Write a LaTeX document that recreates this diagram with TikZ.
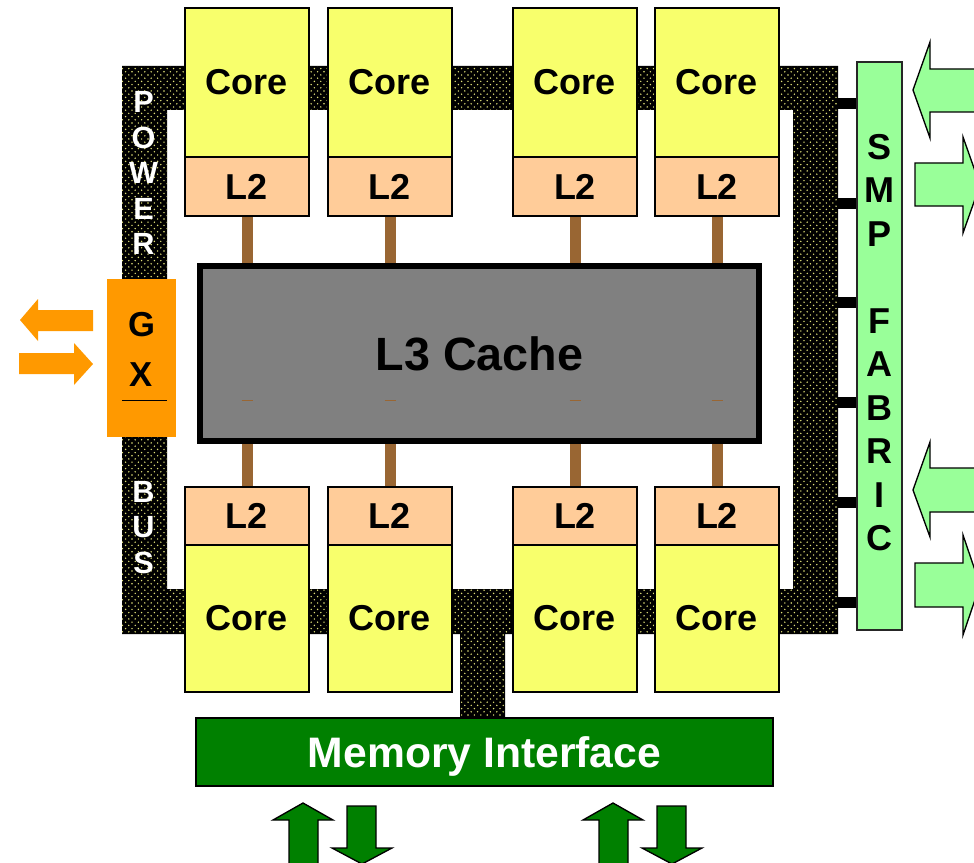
\documentclass[tikz,border=0pt]{standalone}
\usepackage{fontspec}
\setmainfont{Liberation Sans}
\usetikzlibrary{patterns}
\pgfdeclarepatternformonly{busdots}{\pgfqpoint{-1pt}{-1pt}}{\pgfqpoint{4pt}{4pt}}{\pgfqpoint{4.8pt}{4.8pt}}{%
  \pgfpathcircle{\pgfqpoint{0.6pt}{0.6pt}}{0.6pt}\pgfusepath{fill}%
  \pgfpathcircle{\pgfqpoint{3pt}{3pt}}{0.6pt}\pgfusepath{fill}}
\definecolor{coreY}{RGB}{248,255,108}
\definecolor{ltwo}{RGB}{255,204,153}
\definecolor{lthree}{RGB}{128,128,128}
\definecolor{brownc}{RGB}{153,102,51}
\definecolor{gxor}{RGB}{255,153,0}
\definecolor{smpg}{RGB}{153,255,153}
\definecolor{memg}{RGB}{0,128,0}
\definecolor{dotc}{RGB}{225,225,120}
\tikzset{
  busfill/.style={preaction={fill=black}, pattern=busdots, pattern color=dotc},
  corebox/.style={draw=black, line width=1.5pt, fill=coreY, inner sep=0pt,
    minimum width=93pt, font=\fontsize{27}{32}\selectfont\bfseries},
  ltwobox/.style={draw=black, line width=1.5pt, fill=ltwo, inner sep=0pt,
    minimum width=93pt, font=\fontsize{27}{32}\selectfont\bfseries},
  lthreebox/.style={draw=black, line width=4.5pt, fill=lthree, inner sep=0pt,
    minimum width=419.25pt, minimum height=131.25pt, font=\fontsize{35}{40}\selectfont\bfseries},
  brownbar/.style={draw=brownc, line width=8.25pt},
  letterw/.style={text=white, inner sep=0pt, font=\fontsize{23}{26}\selectfont\bfseries},
  letterk/.style={text=black, inner sep=0pt, font=\fontsize{27}{32}\selectfont\bfseries},
  bigarrow/.style={draw=black, line width=1pt, line join=miter},
}
\begin{document}
\begin{tikzpicture}[x=0.75pt,y=-0.75pt]
\useasboundingbox (0,0) rectangle (974,863);
\clip (0,0) rectangle (974,863);

% power bus
\fill[busfill] (122,66) rectangle (838,110) (122,66) rectangle (167,634)
  (793,66) rectangle (838,634) (122,589) rectangle (838,634)
  (460,589) rectangle (505,718);
\foreach \yy in {104,203,302,402,502,602}
  \fill[black] (838,\yy-5.5) rectangle (857,\yy+5.5);

\foreach \l/\yy [count=\i] in {P/101.5,O/138,W/172.5,E/208.5,R/243.5}
  \node[letterw] (pw\i) at (143.5,\yy) {\l};
\foreach \l/\yy [count=\i] in {B/492,U/527.5,S/563}
  \node[letterw] (bs\i) at (143.5,\yy) {\l};

% cores and L2
\foreach \x [count=\i] in {247,390,575,717} {
  \node[corebox, minimum height=111.75pt] (tc\i) at (\x,82.5) {Core};
  \node[ltwobox, minimum height=44.25pt] (tl\i) at (\x,186.5) {L2};
  \node[ltwobox, minimum height=43.5pt] (bl\i) at (\x,516) {L2};
  \node[corebox, minimum height=110.25pt] (bc\i) at (\x,618.5) {Core};
}

% L3
\node[lthreebox] (l3) at (479.5,353.5) {L3 Cache};
\foreach \i in {1,...,4} {
  \draw[brownbar] (tl\i.south) -- (tl\i.south |- l3.north);
  \draw[brownbar] (bl\i.north |- l3.south) -- (bl\i.north);
}
\foreach \x in {247,390,575,717}
  \draw[brownc, line width=0.75pt] (\x-5.5,400) -- (\x+5.5,400);

% GX
\node[fill=gxor, inner sep=0pt, minimum width=51.75pt, minimum height=118.5pt] (gx) at (141.5,358) {};
\node[letterk, font=\fontsize{26}{30}\selectfont\bfseries] (gxg) at (141.5,324.5) {G};
\node[letterk, font=\fontsize{26}{30}\selectfont\bfseries] (gxx) at (141.5,375) {X};
\draw[line width=0.75pt] (122,400) -- (167,400);
\fill[gxor] (20,320) -- (38,299) -- (38,310) -- (93,310) -- (93,331) -- (38,331) -- (38,341) -- cycle;
\fill[gxor] (19,353) -- (74,353) -- (74,343) -- (93,364) -- (74,385) -- (74,374) -- (19,374) -- cycle;

% SMP fabric
\node[draw=black!85, line width=1.2pt, fill=smpg, inner sep=0pt, minimum width=33.75pt, minimum height=426pt] (smp) at (879.5,346) {};
\foreach \l/\yy [count=\i] in {S/147,M/190.5,P/234,F/321,A/364.5,B/408,R/451.5,I/495,C/538.5}
  \node[letterk] (sm\i) at (879.5,\yy) {\l};

\draw[bigarrow, fill=smpg] (913,90) -- (930,42) -- (930,69) -- (990,69) -- (990,112) -- (930,112) -- (930,138) -- cycle;
\draw[bigarrow, fill=smpg] (915,163) -- (963,163) -- (963,137) -- (980,185) -- (963,233) -- (963,206) -- (915,206) -- cycle;
\draw[bigarrow, fill=smpg] (913,490) -- (930,442) -- (930,468) -- (990,468) -- (990,512) -- (930,512) -- (930,537) -- cycle;
\draw[bigarrow, fill=smpg] (915,563) -- (963,563) -- (963,535) -- (980,585) -- (963,635) -- (963,607) -- (915,607) -- cycle;

% memory interface
\node[draw=black, line width=1.5pt, fill=memg, inner sep=0pt, minimum width=432.75pt, minimum height=51pt,
  text=white, text depth=0pt, font=\fontsize{32}{36}\selectfont\bfseries] (mem) at (484.5,752) {Memory Interface};

\foreach \ux/\dx in {303/362,613/672} {
  \draw[bigarrow, fill=memg] (\ux,803) -- (\ux+30,820) -- (\ux+15,820) -- (\ux+15,880) -- (\ux-14,880) -- (\ux-14,820) -- (\ux-30,820) -- cycle;
  \draw[bigarrow, fill=memg] (\dx-15,806) -- (\dx+14,806) -- (\dx+14,848) -- (\dx+30,848) -- (\dx,864) -- (\dx-30,848) -- (\dx-15,848) -- cycle;
}
\end{tikzpicture}
\end{document}
